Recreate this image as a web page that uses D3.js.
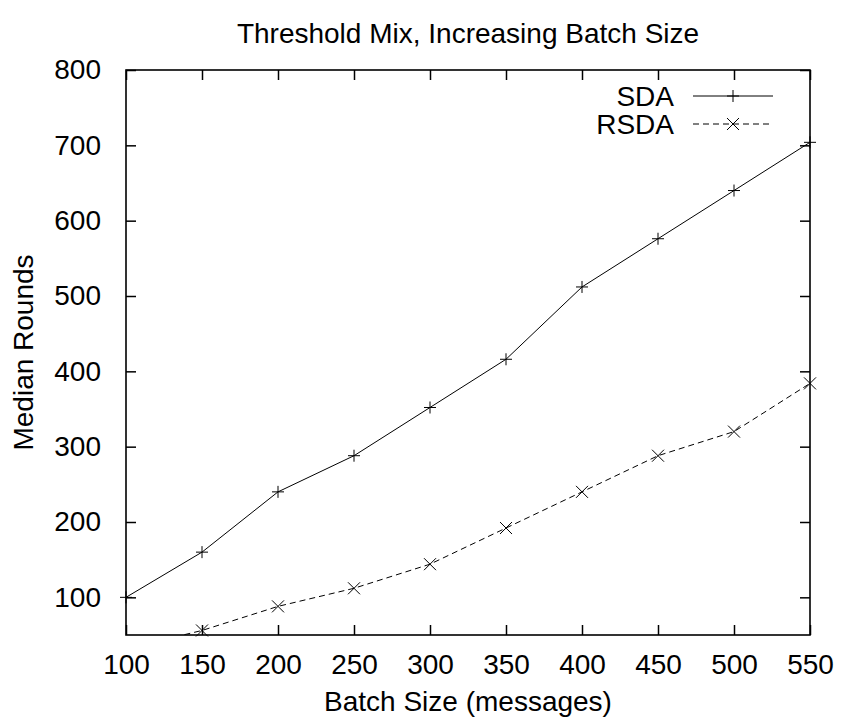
<!DOCTYPE html>
<html>
<head>
<meta charset="utf-8">
<script src="https://cdn.jsdelivr.net/npm/d3@7"></script>
<style>
  html, body { margin: 0; padding: 0; background: #fff; }
  svg { display: block; font-family: "Liberation Sans", Arial, Helvetica, sans-serif; }
</style>
</head>
<body>
<svg id="chart" width="842" height="723"></svg>
<script>
const batchSizes = [100, 150, 200, 250, 300, 350, 400, 450, 500, 550];
const sdaValues  = [100, 160, 240, 288, 352, 416, 512, 576, 640, 704];
const rsdaValues = [32, 56, 88, 112, 144, 192, 240, 288, 320, 384];
const xTicks = [100, 150, 200, 250, 300, 350, 400, 450, 500, 550];
const yTicks = [100, 200, 300, 400, 500, 600, 700, 800];
const seriesNames = ["SDA", "RSDA"];

const FS = 28;
const svg = d3.select("#chart");
const margin = { left: 126, right: 32, top: 70, bottom: 88 };
const W = 842, H = 723;
const x = d3.scaleLinear().domain([100, 550]).range([margin.left, W - margin.right]);
const y = d3.scaleLinear().domain([50, 800]).range([H - margin.bottom, margin.top]);

svg.append("rect").attr("width", W).attr("height", H).attr("fill", "#fff");

const tickLen = 10;
const gB = svg.append("g").attr("transform", `translate(0,${y(50)})`)
  .call(d3.axisBottom(x).tickValues(xTicks).tickSize(-tickLen).tickPadding(19).tickFormat(d3.format("d")));
const gT = svg.append("g").attr("transform", `translate(0,${y(800)})`)
  .call(d3.axisTop(x).tickValues(xTicks).tickSize(-tickLen).tickFormat(""));
const gL = svg.append("g").attr("transform", `translate(${x(100)},0)`)
  .call(d3.axisLeft(y).tickValues(yTicks).tickSize(-tickLen).tickPadding(25).tickFormat(d3.format("d")));
const gR = svg.append("g").attr("transform", `translate(${x(550)},0)`)
  .call(d3.axisRight(y).tickValues(yTicks).tickSize(-tickLen).tickFormat(""));
[gB, gT, gL, gR].forEach(g => {
  g.select(".domain").remove();
  g.selectAll(".tick line").attr("stroke", "#000").attr("stroke-width", 1.5);
  g.selectAll(".tick text").attr("fill", "#000").attr("font-size", FS)
    .attr("font-family", "'Liberation Sans', Arial, sans-serif");
});
gB.selectAll(".tick text").attr("dy", "0.71em");

svg.append("rect")
  .attr("x", x(100)).attr("y", y(800))
  .attr("width", x(550) - x(100)).attr("height", y(50) - y(800))
  .attr("fill", "none").attr("stroke", "#000").attr("stroke-width", 1.6);

svg.append("defs").append("clipPath").attr("id", "clip")
  .append("rect").attr("x", x(100)).attr("y", y(800))
  .attr("width", x(550) - x(100)).attr("height", y(50) - y(800));

const line = d3.line().x(d => x(d[0])).y(d => y(d[1]));
const sdaData = batchSizes.map((b, i) => [b, sdaValues[i]]);
const rsdaData = batchSizes.map((b, i) => [b, rsdaValues[i]]);

const plot = svg.append("g").attr("clip-path", "url(#clip)");
plot.append("path").datum(sdaData).attr("d", line)
  .attr("fill", "none").attr("stroke", "#000").attr("stroke-width", 1);
plot.append("path").datum(rsdaData).attr("d", line)
  .attr("fill", "none").attr("stroke", "#000").attr("stroke-width", 1)
  .attr("stroke-dasharray", "6,4");

const ps = 6;
function plus(g, cx, cy) {
  g.append("path").attr("d", `M${cx - ps},${cy}H${cx + ps}M${cx},${cy - ps}V${cy + ps}`)
    .attr("stroke", "#000").attr("stroke-width", 1).attr("fill", "none");
}
function cross(g, cx, cy) {
  g.append("path").attr("d", `M${cx - ps},${cy - ps}L${cx + ps},${cy + ps}M${cx - ps},${cy + ps}L${cx + ps},${cy - ps}`)
    .attr("stroke", "#000").attr("stroke-width", 1).attr("fill", "none");
}
const mk = svg.append("g");
sdaData.forEach(d => { if (d[1] >= 50) plus(mk, x(d[0]), y(d[1])); });
rsdaData.forEach(d => { if (d[1] >= 50) cross(mk, x(d[0]), y(d[1])); });

const legend = svg.append("g");
const legY = [96, 124];
seriesNames.forEach((name, i) => {
  legend.append("text").attr("x", 674).attr("y", legY[i]).attr("dy", "0.35em")
    .attr("text-anchor", "end").attr("font-size", FS).attr("fill", "#000").text(name);
  const ln = legend.append("line").attr("x1", 693).attr("x2", 773)
    .attr("y1", legY[i]).attr("y2", legY[i]).attr("stroke", "#000").attr("stroke-width", 1);
  if (i === 1) { ln.attr("stroke-dasharray", "6,4"); cross(legend, 733, legY[i]); }
  else plus(legend, 733, legY[i]);
});

svg.append("text").attr("x", (x(100) + x(550)) / 2).attr("y", 43)
  .attr("text-anchor", "middle").attr("font-size", FS).attr("fill", "#000")
  .text("Threshold Mix, Increasing Batch Size");
svg.append("text").attr("x", (x(100) + x(550)) / 2).attr("y", 711)
  .attr("text-anchor", "middle").attr("font-size", FS).attr("fill", "#000")
  .text("Batch Size (messages)");
svg.append("text").attr("transform", `translate(33,${(y(50) + y(800)) / 2}) rotate(-90)`)
  .attr("text-anchor", "middle").attr("font-size", FS).attr("fill", "#000")
  .text("Median Rounds");
</script>
</body>
</html>
